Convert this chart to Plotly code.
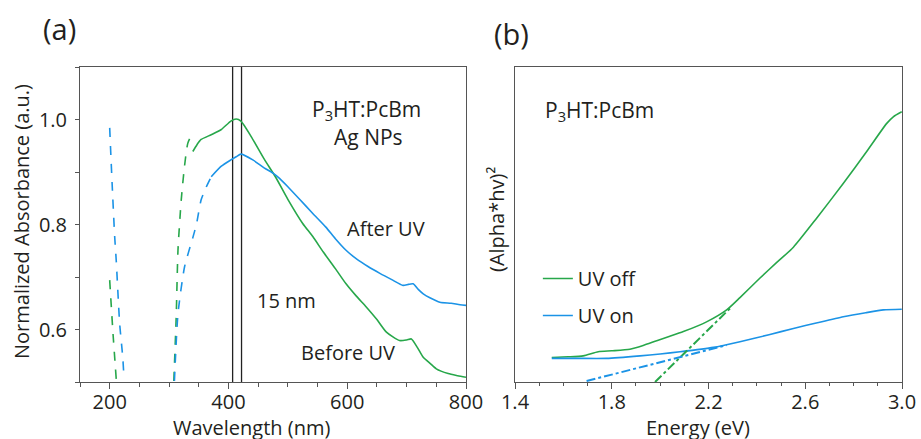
import plotly.graph_objects as go

# ---------------- Panel (a) data: wavelength (nm) vs normalized absorbance ----------------
before_dash1_wl = [200, 205.6, 211]
before_dash1_ab = [0.694, 0.592, 0.506]
before_dash2_wl = [308, 312, 315, 320.5, 326, 331.6, 340]
before_dash2_ab = [0.502, 0.624, 0.751, 0.847, 0.911, 0.955, 0.975]
before_wl = [340, 347, 354, 371, 388, 404, 413, 421, 438, 460, 480, 500, 525, 542, 560, 580, 598,
             615, 632, 650, 666, 688, 700, 708, 718, 728, 740, 750, 770, 786, 800]
before_ab = [0.939, 0.952, 0.962, 0.971, 0.981, 0.997, 1.001, 0.997, 0.968, 0.925, 0.889, 0.848, 0.802,
             0.777, 0.747, 0.716, 0.687, 0.664, 0.643, 0.619, 0.595, 0.579, 0.580, 0.582, 0.566, 0.547,
             0.535, 0.525, 0.516, 0.512, 0.509]

after_dash1_wl = [200, 204, 208.4, 211, 216.8, 222, 224]
after_dash1_ab = [0.984, 0.88, 0.777, 0.732, 0.611, 0.547, 0.509]
after_dash2_wl = [309, 315, 326, 340, 346, 354, 362, 371]
after_dash2_ab = [0.502, 0.630, 0.719, 0.775, 0.800, 0.847, 0.870, 0.891]
after_wl = [371, 388, 404, 413, 421, 441, 460, 475, 486, 500, 519, 542, 564, 580, 598, 615, 635, 655,
            675, 694, 703, 711, 720, 728, 740, 756, 775, 790, 800]
after_ab = [0.891, 0.911, 0.923, 0.929, 0.934, 0.923, 0.908, 0.898, 0.888, 0.872, 0.849, 0.821, 0.795,
            0.773, 0.751, 0.735, 0.720, 0.707, 0.695, 0.684, 0.686, 0.687, 0.676, 0.668, 0.660, 0.652,
            0.650, 0.647, 0.646]

peak_lines_wl = [407, 422]
a_yrange = [0.5, 1.1]

# ---------------- Panel (b) data: energy (eV) vs (alpha*hv)^2 (arb.) ----------------
off_e = [1.552, 1.62, 1.682, 1.744, 1.80, 1.875, 1.93, 1.986, 2.04, 2.096, 2.192, 2.275, 2.33, 2.413,
         2.48, 2.551, 2.647, 2.757, 2.854, 2.937, 2.964, 2.999]
off_v = [0.078, 0.080, 0.083, 0.096, 0.099, 0.104, 0.116, 0.131, 0.145, 0.160, 0.191, 0.229, 0.268, 0.330,
         0.378, 0.428, 0.520, 0.630, 0.732, 0.821, 0.842, 0.858]
on_e = [1.552, 1.65, 1.779, 1.917, 2.00, 2.082, 2.22, 2.33, 2.45, 2.551, 2.65, 2.757, 2.85, 2.923, 2.999]
on_v = [0.075, 0.075, 0.075, 0.083, 0.089, 0.096, 0.110, 0.128, 0.150, 0.170, 0.188, 0.207, 0.220, 0.229, 0.231]
off_fit_e = [1.979, 2.296]
off_fit_v = [0.0, 0.239]
on_fit_e = [1.696, 2.275]
on_fit_v = [0.003, 0.117]

GREEN = "#27a74a"
BLUE = "#1b93e6"
FONT = "Open Sans"
TXT = "#231f20"
AX = "#555555"
FS = 20

fig = go.Figure()

def add(x, y, color, dash="solid", xa="x", ya="y", name=None, legend=False, group=None, width=1.6,
        smooth=True):
    line = dict(color=color, width=width, dash=dash)
    if smooth:
        line.update(shape="spline", smoothing=0.6)
    fig.add_trace(go.Scatter(x=x, y=y, mode="lines", line=line,
                             xaxis=xa, yaxis=ya, name=name, showlegend=legend,
                             legendgroup=group, hoverinfo="skip"))

# Panel a
for wl in peak_lines_wl:
    add([wl, wl], a_yrange, "#222222", width=1.3, smooth=False)
add(before_dash1_wl, before_dash1_ab, GREEN, "dash")
add(before_dash2_wl, before_dash2_ab, GREEN, "dash")
add(before_wl, before_ab, GREEN)
add(after_dash1_wl, after_dash1_ab, BLUE, "dash")
add(after_dash2_wl, after_dash2_ab, BLUE, "dash")
add(after_wl, after_ab, BLUE)

# Panel b
add(off_e, off_v, GREEN, xa="x2", ya="y2", name="UV off", legend=True, group="off")
add(on_e, on_v, BLUE, xa="x2", ya="y2", name="UV on", legend=True, group="on")
add(off_fit_e, off_fit_v, GREEN, "dashdot", xa="x2", ya="y2", width=2, smooth=False)
add(on_fit_e, on_fit_v, BLUE, "dashdot", xa="x2", ya="y2", width=2, smooth=False)

axis_common = dict(showline=True, linecolor=AX, linewidth=1, mirror=True, showgrid=False,
                   zeroline=False, tickfont=dict(family=FONT, size=FS, color=TXT),
                   ticks="outside", tickcolor=AX, automargin=False)

fig.update_layout(
    width=921, height=439,
    margin=dict(l=0, r=0, t=0, b=0),
    paper_bgcolor="white", plot_bgcolor="white",
    font=dict(family=FONT, color=TXT),
    xaxis=dict(axis_common, domain=[80/921, 466/921], range=[150, 800], dtick=200, tick0=0,
               ticklen=6, ticklabelstandoff=-4,
               minor=dict(ticks="outside", dtick=50, ticklen=4, tickcolor=AX),
               anchor="y"),
    yaxis=dict(axis_common, domain=[1-382/439, 1-67/439], range=a_yrange, dtick=0.2, tick0=0,
               tickformat=".1f", ticklen=4, ticklabelstandoff=4,
               minor=dict(ticks="outside", dtick=0.1, ticklen=4, tickcolor=AX),
               anchor="x"),
    xaxis2=dict(axis_common, domain=[515/921, 902/921], range=[1.4, 3.0], dtick=0.4, tick0=1.4,
                tickformat=".1f", ticklen=6, ticklabelstandoff=-4,
                minor=dict(ticks="outside", dtick=0.1, ticklen=3, tickcolor=AX),
                anchor="y2"),
    yaxis2=dict(axis_common, domain=[1-382/439, 1-67/439], range=[0, 1], showticklabels=False,
                ticks="", anchor="x2"),
    legend=dict(x=0.584, y=0.41, xanchor="left", yanchor="top", bgcolor="rgba(0,0,0,0)",
                font=dict(family=FONT, size=FS, color=TXT), tracegroupgap=8, traceorder="grouped"),
    showlegend=True,
)

def note(text, x, y, xref, yref, size=FS, xanchor="center", angle=0):
    fig.add_annotation(text=text, x=x, y=y, xref=xref, yref=yref, showarrow=False, xanchor=xanchor,
                       yanchor="middle", textangle=angle, font=dict(family=FONT, size=size, color=TXT))

note("(a)", 59/921, 1-28/439, "paper", "paper", size=29)
note("(b)", 511/921, 1-33/439, "paper", "paper", size=29)
note("Wavelength (nm)", 251/921, 1-427/439, "paper", "paper")
note("Energy (eV)", 698/921, 1-427/439, "paper", "paper")
note("Normalized Absorbance (a.u.)", 21/921, 1-222/439, "paper", "paper", angle=-90)
note("(Alpha*hv)²", 496/921, 1-220/439, "paper", "paper", angle=-90)
note("P<sub>3</sub>HT:PcBm", 632, 1.019, "x", "y", size=21)
note("Ag NPs", 635, 0.966, "x", "y", size=21)
note("After UV", 666, 0.793, "x", "y")
note("15 nm", 497, 0.655, "x", "y")
note("Before UV", 602, 0.556, "x", "y")
note("P<sub>3</sub>HT:PcBm", 1.751, 0.86, "x2", "y2", size=21)

fig.write_html("out.html", config={"displayModeBar": False},
               post_script="document.body.style.margin='0';document.body.style.padding='0';")
